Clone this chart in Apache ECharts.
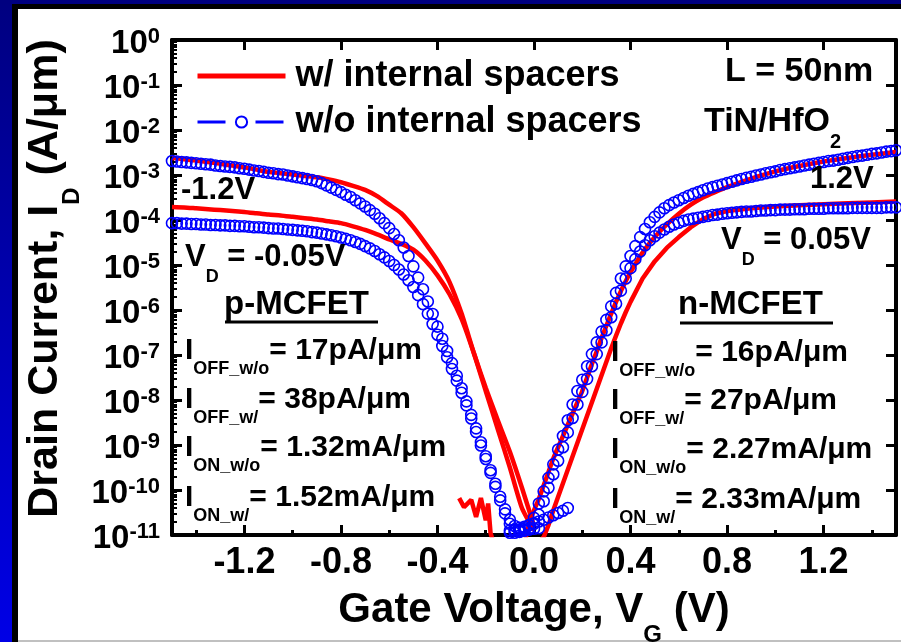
<!DOCTYPE html>
<html><head><meta charset="utf-8">
<script src="https://cdn.jsdelivr.net/npm/echarts@6/dist/echarts.min.js"></script>
<style>html,body{margin:0;padding:0;background:#fff;}#c{width:901px;height:642px;}</style>
</head><body><div id="c"></div>
<script>
const FONT = 'Liberation Sans, Arial, Helvetica, sans-serif';
const RED = '#ff0000', BLUE = '#0000ff';

// ---- axis ticks / labels ----
const xTickLabels = [-1.2, -0.8, -0.4, 0.0, 0.4, 0.8, 1.2];
const xMinorTicks = [-1.4, -1.0, -0.6, -0.2, 0.2, 0.6, 1.0, 1.4];
const yTickExponents = [-11, -10, -9, -8, -7, -6, -5, -4, -3, -2, -1, 0];

// ---- w/o internal spacers (blue circles): gate voltage sweeps ----
const vgBlueP = [-1.50,-1.48,-1.46,-1.44,-1.42,-1.40,-1.38,-1.36,-1.34,-1.32,
  -1.30,-1.28,-1.26,-1.24,-1.22,-1.20,-1.18,-1.16,-1.14,-1.12,
  -1.10,-1.08,-1.06,-1.04,-1.02,-1.00,-0.98,-0.96,-0.94,-0.92,
  -0.90,-0.88,-0.86,-0.84,-0.82,-0.80,-0.78,-0.76,-0.74,-0.72,
  -0.70,-0.68,-0.66,-0.64,-0.62,-0.60,-0.58,-0.56,-0.54,-0.52,
  -0.50,-0.48,-0.46,-0.44,-0.42,-0.40,-0.38,-0.36,-0.34,-0.32,
  -0.30,-0.28,-0.26,-0.24,-0.22,-0.20,-0.18,-0.16,-0.14,-0.12,
  -0.10,-0.08,-0.06,-0.04,-0.02,0.00,0.02,0.04,0.06,0.08,
  0.10,0.12,0.14];
const vgBlueN = [-0.10,-0.08,-0.06,-0.04,-0.02,0.00,0.02,0.04,0.06,0.08,
  0.10,0.12,0.14,0.16,0.18,0.20,0.22,0.24,0.26,0.28,
  0.30,0.32,0.34,0.36,0.38,0.40,0.42,0.44,0.46,0.48,
  0.50,0.52,0.54,0.56,0.58,0.60,0.62,0.64,0.66,0.68,
  0.70,0.72,0.74,0.76,0.78,0.80,0.82,0.84,0.86,0.88,
  0.90,0.92,0.94,0.96,0.98,1.00,1.02,1.04,1.06,1.08,
  1.10,1.12,1.14,1.16,1.18,1.20,1.22,1.24,1.26,1.28,
  1.30,1.32,1.34,1.36,1.38,1.40,1.42,1.44,1.46,1.48,1.50];

// log10 of drain current (A/um)
const logBlueP_Vd12 = [-2.69,-2.70,-2.71,-2.72,-2.73,-2.74,-2.75,-2.76,-2.77,-2.79,
  -2.80,-2.81,-2.82,-2.83,-2.85,-2.86,-2.88,-2.90,-2.91,-2.93,
  -2.95,-2.96,-2.98,-2.99,-3.01,-3.03,-3.05,-3.07,-3.09,-3.11,
  -3.14,-3.18,-3.23,-3.28,-3.33,-3.38,-3.44,-3.49,-3.56,-3.63,
  -3.70,-3.78,-3.86,-3.96,-4.07,-4.18,-4.31,-4.45,-4.61,-4.80,
  -5.03,-5.28,-5.54,-5.81,-6.09,-6.37,-6.64,-6.91,-7.18,-7.46,
  -7.74,-8.03,-8.33,-8.63,-8.94,-9.25,-9.56,-9.86,-10.15,-10.43,
  -10.66,-10.80,-10.84,-10.82,-10.78,-10.74,-10.70,-10.66,-10.61,-10.56,
  -10.51,-10.46,-10.40];
const logBlueP_Vd005 = [-4.07,-4.07,-4.08,-4.08,-4.09,-4.09,-4.10,-4.10,-4.11,-4.11,
  -4.12,-4.12,-4.13,-4.13,-4.14,-4.14,-4.15,-4.16,-4.16,-4.17,
  -4.18,-4.19,-4.19,-4.20,-4.21,-4.22,-4.23,-4.24,-4.25,-4.27,
  -4.28,-4.30,-4.32,-4.34,-4.36,-4.39,-4.42,-4.45,-4.49,-4.53,
  -4.58,-4.63,-4.69,-4.76,-4.83,-4.91,-5.00,-5.10,-5.21,-5.34,
  -5.49,-5.67,-5.87,-6.08,-6.31,-6.55,-6.80,-7.05,-7.31,-7.57,
  -7.84,-8.12,-8.41,-8.71,-9.01,-9.31,-9.62,-9.93,-10.23,-10.52,
  -10.75,-10.88,-10.92,-10.90,-10.88,-10.86,-10.85];
const logBlueN_Vd12 = [-10.90,-10.90,-10.88,-10.85,-10.78,-10.62,-10.30,-10.03,-9.73,-9.43,
  -9.10,-8.80,-8.45,-8.10,-7.80,-7.55,-7.25,-6.98,-6.72,-6.48,
  -6.22,-5.92,-5.62,-5.30,-5.03,-4.80,-4.58,-4.38,-4.20,-4.05,
  -3.93,-3.83,-3.74,-3.67,-3.61,-3.56,-3.51,-3.46,-3.42,-3.38,
  -3.34,-3.30,-3.27,-3.24,-3.21,-3.18,-3.15,-3.12,-3.09,-3.06,
  -3.04,-3.01,-2.99,-2.96,-2.94,-2.92,-2.89,-2.87,-2.85,-2.83,
  -2.81,-2.79,-2.77,-2.75,-2.73,-2.71,-2.69,-2.68,-2.66,-2.64,
  -2.62,-2.60,-2.58,-2.57,-2.55,-2.53,-2.52,-2.50,-2.48,-2.47,-2.45];
const logBlueN_Vd005 = [-10.95,-10.95,-10.93,-10.90,-10.85,-10.75,-10.55,-10.25,-9.95,-9.65,
  -9.35,-9.05,-8.72,-8.40,-8.10,-7.82,-7.53,-7.25,-6.98,-6.72,
  -6.45,-6.16,-5.86,-5.57,-5.30,-5.07,-4.87,-4.70,-4.56,-4.45,
  -4.36,-4.28,-4.21,-4.15,-4.10,-4.06,-4.02,-3.99,-3.97,-3.95,
  -3.93,-3.91,-3.89,-3.88,-3.86,-3.85,-3.84,-3.83,-3.82,-3.81,
  -3.81,-3.80,-3.79,-3.79,-3.78,-3.78,-3.77,-3.77,-3.77,-3.76,
  -3.76,-3.76,-3.75,-3.75,-3.75,-3.75,-3.74,-3.74,-3.74,-3.74,
  -3.74,-3.73,-3.73,-3.73,-3.73,-3.73,-3.73,-3.73,-3.72,-3.72,-3.72];

// ---- w/ internal spacers (red lines) ----
const vgRedP = [-1.50,-1.45,-1.40,-1.35,-1.30,-1.25,-1.20,-1.15,-1.10,-1.05,
  -1.00,-0.95,-0.90,-0.85,-0.80,-0.75,-0.70,-0.65,-0.60,-0.55,
  -0.50,-0.45,-0.40,-0.35,-0.30,-0.25,-0.20,-0.15,-0.10,-0.05,0.00];
const logRedP_Vd12 = [-2.62,-2.65,-2.68,-2.71,-2.75,-2.79,-2.83,-2.88,-2.93,-2.96,
  -2.99,-3.02,-3.05,-3.10,-3.16,-3.24,-3.33,-3.47,-3.66,-3.85,
  -4.16,-4.52,-4.90,-5.38,-6.08,-6.94,-7.73,-8.45,-9.15,-9.95,-10.80];
const logRedP_Vd005 = [-3.71,-3.72,-3.74,-3.76,-3.78,-3.80,-3.82,-3.85,-3.88,-3.90,
  -3.93,-3.96,-3.99,-4.03,-4.07,-4.14,-4.22,-4.32,-4.43,-4.53,
  -4.66,-4.90,-5.23,-5.65,-6.20,-6.95,-7.80,-8.65,-9.50,-10.40,-10.90];
const vgRedN12 = [-0.04,-0.02,0.00,0.02,0.04,0.06,0.08,0.10,0.12,0.14,
  0.16,0.18,0.20,0.22,0.24,0.26,0.28,0.30,0.32,0.34,0.36,0.38,0.40,
  0.45,0.50,0.55,0.60,0.65,0.70,0.75,0.80,
  0.90,1.00,1.10,1.20,1.30,1.40,1.50];
const logRedN_Vd12 = [-11.2,-10.75,-10.45,-10.2,-9.9,-9.6,-9.3,-9.05,-8.8,-8.55,
  -8.3,-8.05,-7.8,-7.5,-7.2,-6.92,-6.62,-6.35,-6.08,-5.82,-5.58,-5.36,-5.16,
  -4.72,-4.38,-4.1,-3.86,-3.66,-3.5,-3.38,-3.27,
  -3.08,-2.92,-2.8,-2.7,-2.62,-2.55,-2.49];
const vgRedN005 = [-0.31,-0.29,-0.26,-0.24,-0.22,-0.20,-0.19,-0.18,-0.16,-0.10,-0.05,0.00,0.04,
  0.06,0.08,0.10,0.12,0.14,0.16,0.18,0.20,0.22,0.24,0.26,0.28,0.30,0.32,0.34,0.36,0.38,0.40,
  0.45,0.50,0.55,0.60,0.65,0.70,0.75,0.80,
  0.90,1.00,1.10,1.20,1.30,1.40,1.50];
const logRedN_Vd005 = [-10.18,-10.38,-10.22,-10.60,-10.18,-10.67,-10.30,-10.96,-11.30,-11.40,-11.35,-11.25,-11.05,
  -10.78,-10.45,-10.15,-9.85,-9.55,-9.25,-8.95,-8.65,-8.35,-8.05,-7.75,-7.45,-7.15,-6.85,-6.57,-6.30,-6.05,-5.82,
  -5.30,-4.92,-4.62,-4.38,-4.16,-3.98,-3.86,-3.80,
  -3.74,-3.70,-3.67,-3.65,-3.63,-3.61,-3.59];

function pairs(vg, logI) { return logI.map((e, i) => [vg[i], Math.pow(10, e)]); }

const NAME_W = 'w/ internal spacers', NAME_WO = 'w/o internal spacers';
function redSeries(vg, logI, smooth) {
  return { type: 'line', name: NAME_W, data: pairs(vg, logI), symbol: 'none', showSymbol: false,
    smooth: smooth, lineStyle: { color: RED, width: 4.5 }, itemStyle: { color: RED }, z: 3, silent: true };
}
function blueSeries(vg, logI) {
  return { type: 'line', name: NAME_WO, data: pairs(vg, logI), symbol: 'circle', symbolSize: 11, showSymbol: true,
    lineStyle: { width: 0, opacity: 0, color: BLUE },
    itemStyle: { color: 'rgba(0,0,0,0)', borderColor: BLUE, borderWidth: 1.6 }, z: 4, silent: true };
}

function richTxt(main, sub, subOff, lh) {
  return {
    m: { fontFamily: FONT, fontWeight: 'bold', color: '#000', fontSize: main, lineHeight: lh, verticalAlign: 'top' },
    s: { fontFamily: FONT, fontWeight: 'bold', color: '#000', fontSize: sub, lineHeight: sub,
         padding: [Math.round(lh / 2 + subOff - sub / 2), 0, 0, 0], verticalAlign: 'top' }
  };
}
function ann(text, left, cy, size, subSize, subOff) {
  const lh = size + 4;
  return { text: text, left: left, top: cy - lh / 2, padding: 0, itemGap: 0,
    textStyle: { fontFamily: FONT, fontWeight: 'bold', color: '#000', fontSize: size, rich: richTxt(size, subSize || 18, subOff || 16, lh) } };
}

const titles = [
  ann('{m|-1.2V}', 181, 192, 31),
  ann('{m|V}{s|D}{m| = -0.05V}', 185, 259, 31, 18, 18),
  ann('{m|p-MCFET}', 224, 307, 33),
  ann('{m|I}{s|OFF_w/o}{m|= 17pA/μm}', 185, 353, 30, 18, 16),
  ann('{m|I}{s|OFF_w/}{m|= 38pA/μm}', 185, 402, 30, 18, 16),
  ann('{m|I}{s|ON_w/o}{m|= 1.32mA/μm}', 185, 450, 30, 18, 16),
  ann('{m|I}{s|ON_w/}{m|= 1.52mA/μm}', 185, 500, 30, 18, 16),
  ann('{m|L = 50nm}', 725, 74, 34),
  ann('{m|TiN/HfO}{s|2}', 704, 124, 34, 20, 18),
  ann('{m|1.2V}', 810, 181, 31),
  ann('{m|V}{s|D}{m| = 0.05V}', 721, 242, 31, 18, 18),
  ann('{m|n-MCFET}', 678, 307, 33),
  ann('{m|I}{s|OFF_w/o}{m|= 16pA/μm}', 611, 355, 30, 18, 16),
  ann('{m|I}{s|OFF_w/}{m|= 27pA/μm}', 611, 403, 30, 18, 16),
  ann('{m|I}{s|ON_w/o}{m|= 2.27mA/μm}', 611, 452, 30, 18, 16),
  ann('{m|I}{s|ON_w/}{m|= 2.33mA/μm}', 611, 502, 30, 18, 16)
];

const tickLine = { color: '#000', width: 3 };
const axLine = { show: true, onZero: false, lineStyle: { color: '#000', width: 4 } };
const option = {
  animation: false,
  backgroundColor: '#fff',
  title: titles,
  grid: { left: 172, right: 5, top: 40, bottom: 107, containLabel: false, outerBoundsMode: 'none' },
  legend: {
    orient: 'vertical', left: 190, top: 51, itemWidth: 88, itemHeight: 14, itemGap: 6, selectedMode: false,
    textStyle: { fontFamily: FONT, fontSize: 36, fontWeight: 'bold', color: '#000', lineHeight: 40, padding: [0, 0, 0, 5] },
    data: [
      { name: NAME_W, itemStyle: { opacity: 0 }, lineStyle: { color: RED, width: 5, type: 'solid', opacity: 1 } },
      { name: NAME_WO, itemStyle: { color: 'rgba(0,0,0,0)', borderColor: BLUE, borderWidth: 2, opacity: 1 },
        lineStyle: { color: BLUE, width: 3, type: [28, 30], opacity: 1 } }
    ]
  },
  xAxis: [
    { type: 'value', min: -1.5, max: 1.5, position: 'bottom',
      axisLine: axLine,
      axisTick: { show: true, inside: true, length: 10, lineStyle: tickLine, customValues: xTickLabels },
      axisLabel: { customValues: xTickLabels, formatter: v => v.toFixed(1), fontFamily: FONT, fontSize: 36, fontWeight: 'bold', color: '#000', margin: 10 },
      splitLine: { show: false },
      name: '{m|Gate Voltage, V}{s|G}{m| (V)}', nameLocation: 'middle', nameGap: 54, nameMoveOverlap: false,
      nameTextStyle: { rich: richTxt(42, 24, 22, 48) } },
    { type: 'value', min: -1.5, max: 1.5, position: 'bottom',
      axisLine: { show: false, onZero: false }, axisLabel: { show: false }, splitLine: { show: false },
      axisTick: { show: true, inside: true, length: 5, lineStyle: tickLine, customValues: xMinorTicks } },
    { type: 'value', min: -1.5, max: 1.5, position: 'top',
      axisLine: axLine, axisLabel: { show: false }, splitLine: { show: false },
      axisTick: { show: true, inside: true, length: 10, lineStyle: tickLine, customValues: xTickLabels } }
  ],
  yAxis: [
    { type: 'log', logBase: 10, min: 1e-11, max: 1, interval: 1, splitNumber: 11, position: 'left',
      axisLine: axLine,
      axisTick: { show: true, inside: true, length: 10, lineStyle: tickLine },
      minorTick: { show: true, splitNumber: 9, length: 5, lineStyle: { color: '#000', width: 2 } },
      splitLine: { show: false }, minorSplitLine: { show: false },
      axisLabel: { margin: 12, padding: [7, 0, 0, 0], showMinLabel: true, showMaxLabel: true, hideOverlap: false,
        formatter: v => '{b|10}{e|' + Math.round(Math.log10(v)) + '}',
        rich: { b: { fontFamily: FONT, fontWeight: 'bold', fontSize: 33, color: '#000', lineHeight: 36 },
                e: { fontFamily: FONT, fontWeight: 'bold', fontSize: 22, color: '#000', lineHeight: 2, verticalAlign: 'top' } } },
      name: '{m|Drain Current, I}{s|D}{m| (A/μm)}', nameLocation: 'middle', nameGap: 100, nameRotate: 90, nameMoveOverlap: false,
      nameTextStyle: { rich: richTxt(43, 24, 24, 48), padding: [0, 0, 0, 18] } },
    { type: 'log', logBase: 10, min: 1e-11, max: 1, interval: 1, splitNumber: 11, position: 'right',
      axisLine: axLine,
      axisTick: { show: true, inside: true, length: 10, lineStyle: tickLine },
      axisLabel: { show: false }, splitLine: { show: false } }
  ],
  graphic: [
    { type: 'rect', silent: true, shape: { x: 0, y: 0, width: 12, height: 642 },
      style: { fill: { type: 'linear', x: 0, y: 0, x2: 0, y2: 1, colorStops: [{ offset: 0, color: '#000080' }, { offset: 1, color: '#0000e6' }] } } },
    { type: 'rect', silent: true, shape: { x: 0, y: 0, width: 901, height: 4 }, style: { fill: '#000080' } },
    { type: 'rect', silent: true, shape: { x: 12, y: 4, width: 6, height: 638 }, style: { fill: '#000' } },
    { type: 'rect', silent: true, shape: { x: 12, y: 4, width: 889, height: 5 }, style: { fill: '#000' } },
    { type: 'rect', silent: true, shape: { x: 18, y: 640, width: 883, height: 2 }, style: { fill: '#c0c0c0' } },
    { type: 'line', silent: true, shape: { x1: 225, y1: 322, x2: 378, y2: 322 }, style: { stroke: '#000', lineWidth: 3 } },
    { type: 'line', silent: true, shape: { x1: 680, y1: 323, x2: 833, y2: 323 }, style: { stroke: '#000', lineWidth: 3 } }
  ],
  series: [
    redSeries(vgRedP, logRedP_Vd12, 0.2),
    redSeries(vgRedP, logRedP_Vd005, 0.2),
    redSeries(vgRedN12, logRedN_Vd12, 0.2),
    redSeries(vgRedN005, logRedN_Vd005, false),
    blueSeries(vgBlueP, logBlueP_Vd12),
    blueSeries(vgBlueP, logBlueP_Vd005),
    blueSeries(vgBlueN, logBlueN_Vd12),
    blueSeries(vgBlueN, logBlueN_Vd005)
  ]
};
const chart = echarts.init(document.getElementById('c'), null, { renderer: 'canvas', width: 901, height: 642 });
chart.setOption(option);
</script></body></html>
